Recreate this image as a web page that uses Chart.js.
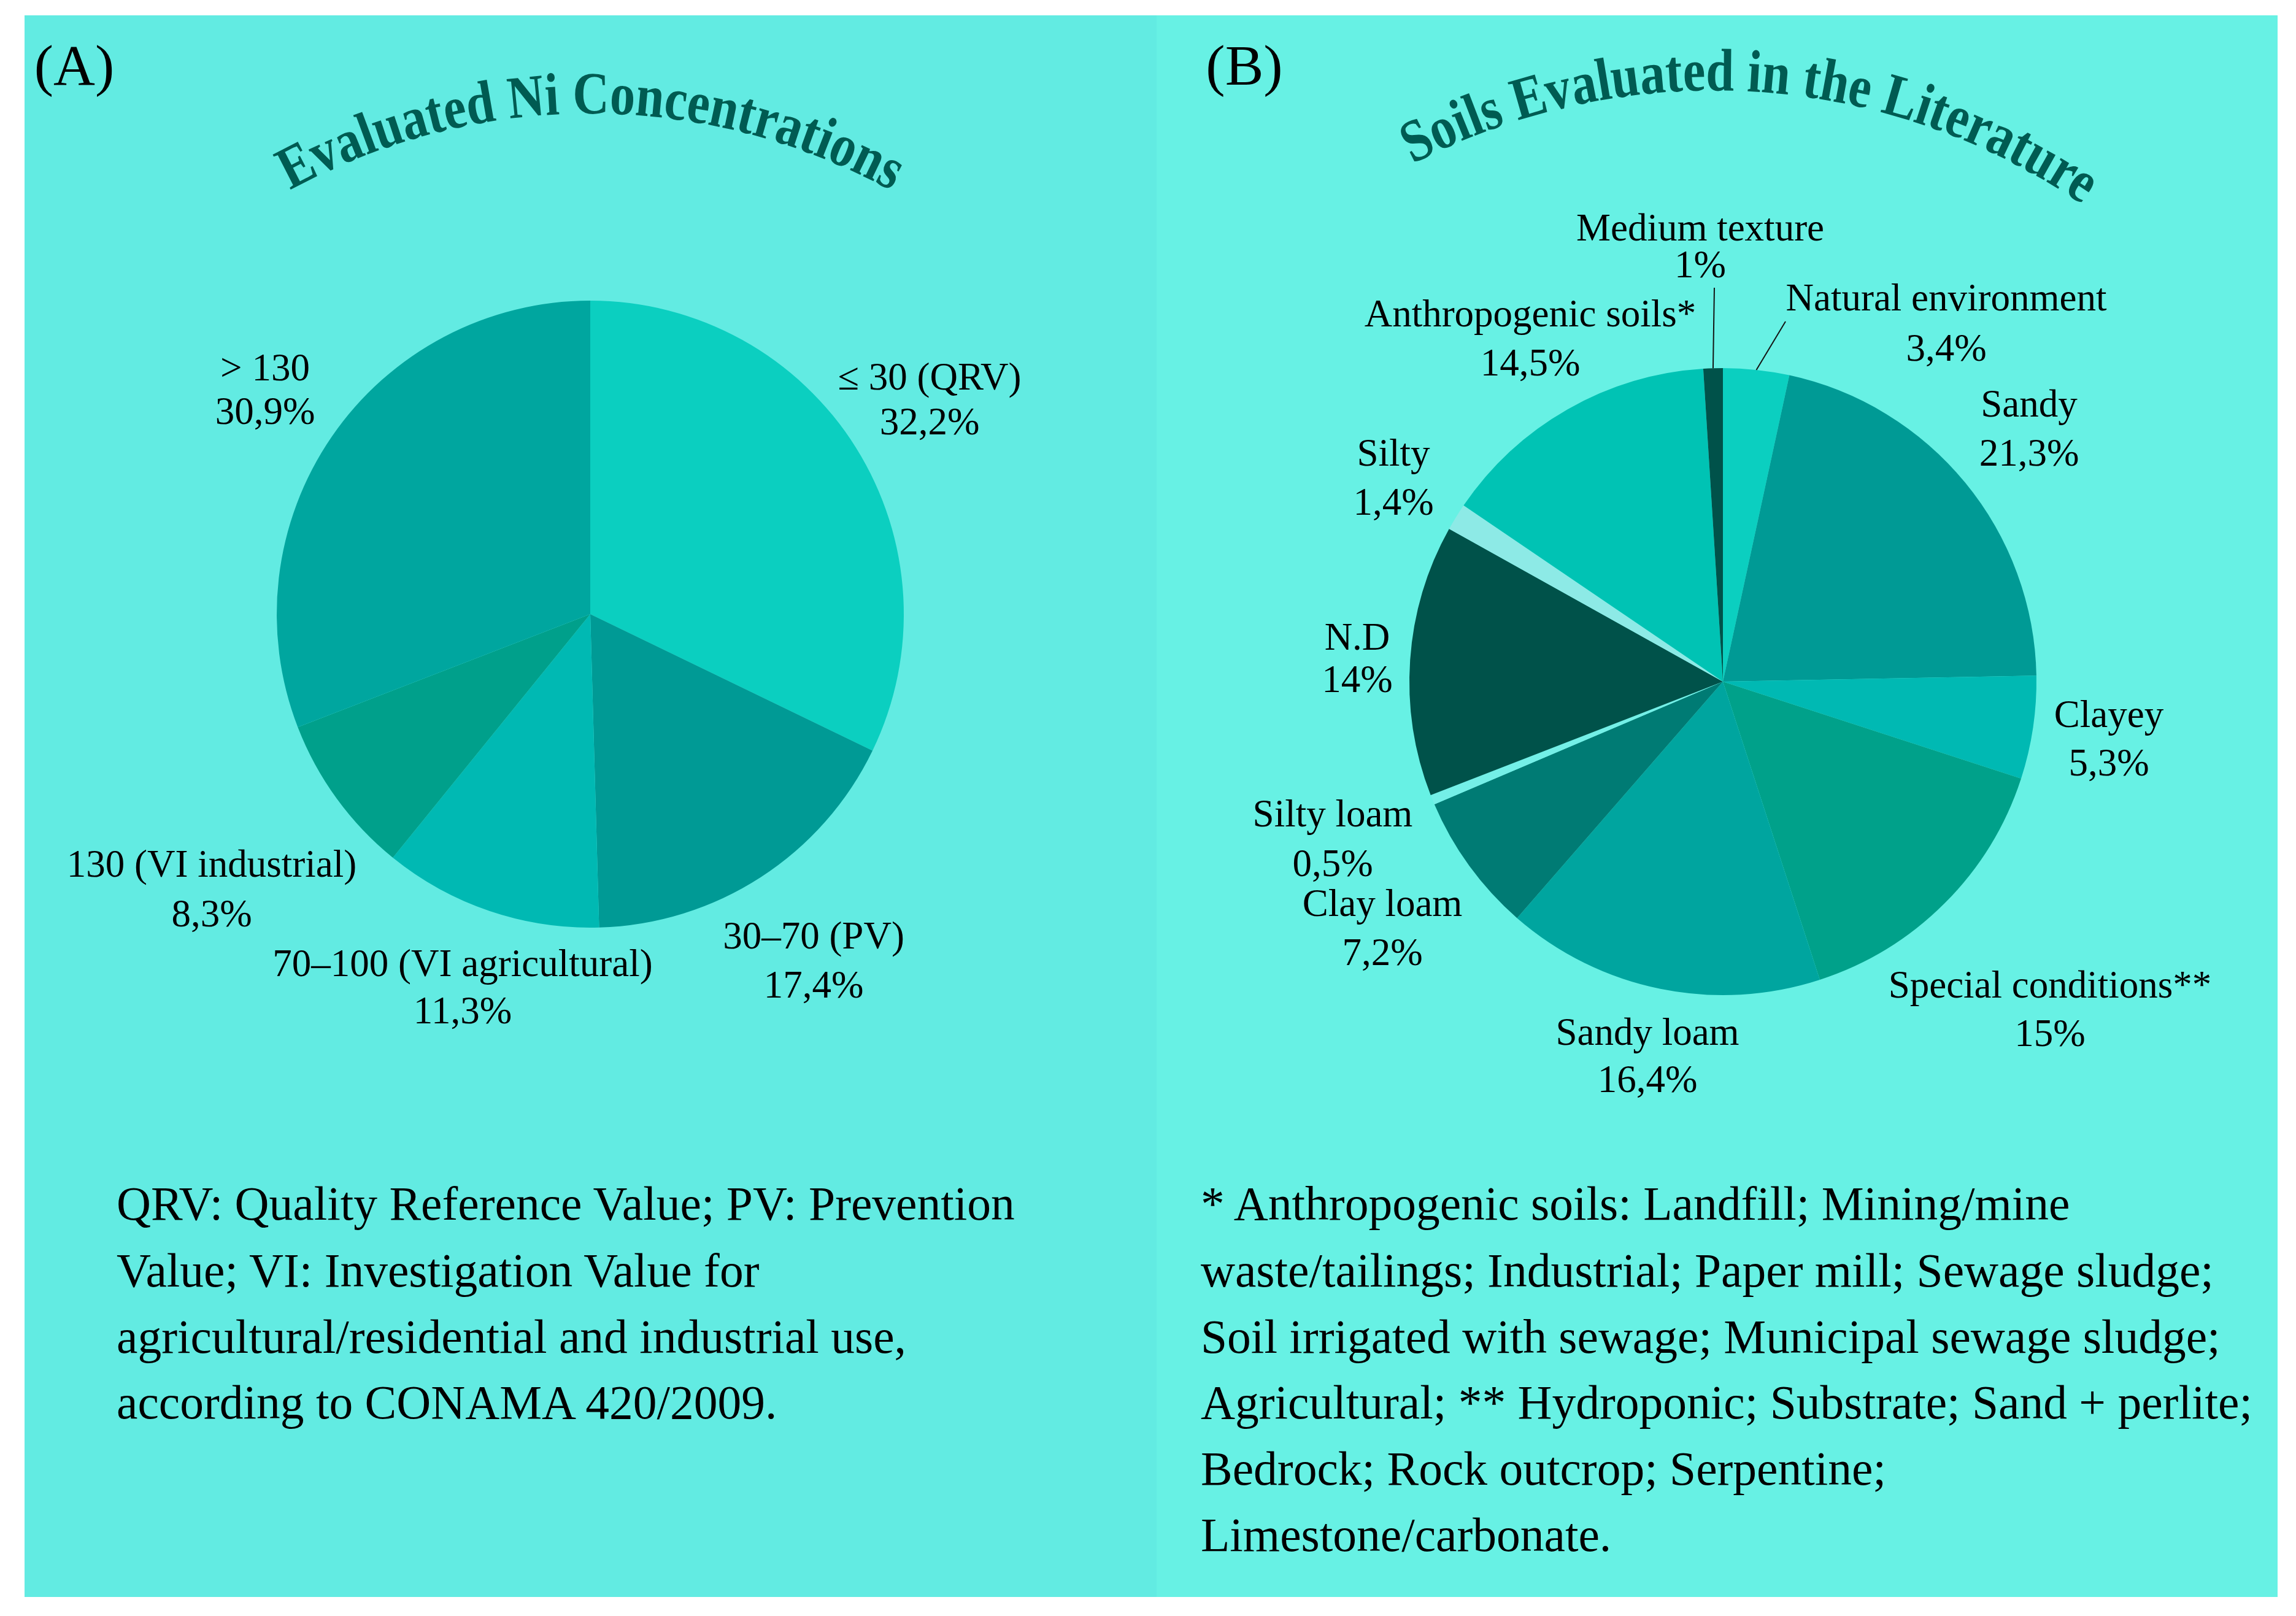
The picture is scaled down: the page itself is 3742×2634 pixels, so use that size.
<!DOCTYPE html>
<html lang="en">
<head>
<meta charset="UTF-8">
<title>Evaluated Ni Concentrations / Soils Evaluated in the Literature</title>
<script src="https://cdn.jsdelivr.net/npm/chart.js@4"></script>
<style>
    html, body { margin: 0; padding: 0; background: #fff; }
    body { width: 3742px; height: 2634px; position: relative; overflow: hidden;
           font-family: "Liberation Serif", "Times New Roman", serif; }
    .panel { position: absolute; top: 25px; height: 2578px; }
    #panelA { left: 40px; width: 1845px; background: #62EBE2; }
    #panelB { left: 1885px; width: 1827px; background: #67F1E4; }
    .panel canvas { position: absolute; left: 0; top: 0; }
    #overlay { position: absolute; left: 0; top: 0; }
</style>
</head>
<body>
<div class="panel" id="panelA"><canvas id="chartA" width="1845" height="2578"></canvas></div>
<div class="panel" id="panelB"><canvas id="chartB" width="1827" height="2578"></canvas></div>
<svg id="overlay" width="3742" height="2634" xmlns="http://www.w3.org/2000/svg"></svg>

<script>
// --- data (A) ---
const labelsA = ['≤ 30 (QRV)', '30–70 (PV)', '70–100 (VI agricultural)', '130 (VI industrial)', '> 130'];
const valuesA = [32.2, 17.4, 11.3, 8.3, 30.9];
const colorsA = ['#0BCFC0', '#009A95', '#00B9B3', '#00A08B', '#00A69F'];

// --- data (B) ---
const labelsB = ['Natural environment', 'Sandy', 'Clayey', 'Special conditions**', 'Sandy loam',
                 'Clay loam', 'Silty loam', 'N.D', 'Silty', 'Anthropogenic soils*', 'Medium texture'];
const valuesB = [3.4, 21.3, 5.3, 15, 16.4, 7.2, 0.5, 14, 1.4, 14.5, 1];
const colorsB = ['#0BCFC0', '#009A95', '#00B9B3', '#00A18A', '#00A59F',
                 '#007B74', '#74EFE7', '#00524A', '#8DEAE6', '#00C3B4', '#00524A'];

const notesA = [
    'QRV: Quality Reference Value; PV: Prevention',
    'Value; VI: Investigation Value for',
    'agricultural/residential and industrial use,',
    'according to CONAMA 420/2009.'
];
const notesB = [
    '* Anthropogenic soils: Landfill; Mining/mine',
    'waste/tailings; Industrial; Paper mill; Sewage sludge;',
    'Soil irrigated with sewage; Municipal sewage sludge;',
    'Agricultural; ** Hydroponic; Substrate; Sand + perlite;',
    'Bedrock; Rock outcrop; Serpentine;',
    'Limestone/carbonate.'
];

// label placement (page px): x centre, baseline of name, baseline of percent
const labelPosA = [[1515, 635, 708], [1326, 1546, 1626], [754, 1591, 1668], [345, 1429, 1510], [432, 620, 691]];
const labelPosB = [[3172, 506, 588], [3307, 679, 759], [3437, 1185, 1264], [3341, 1626, 1705], [2685, 1703, 1780],
                   [2253, 1493, 1573], [2172, 1347, 1428], [2212, 1059, 1128], [2271, 759, 839], [2494, 532, 612],
                   [2771, 392, 452]];
// leader lines in B: slice index -> end point (page px)
const leadersB = [[0, 2910, 524], [10, 2794, 469]];

const pct = v => String(v).replace('.', ',') + '%';

const leaderPlugin = {
    id: 'leaders',
    afterDatasetsDraw(chart, args, opts) {
        if (!opts.ends) return;
        const meta = chart.getDatasetMeta(0);
        const ctx = chart.ctx;
        ctx.save();
        ctx.strokeStyle = '#141414';
        ctx.lineWidth = 2;
        opts.ends.forEach(([i, ex, ey]) => {
            const a = meta.data[i].getProps(['x', 'y', 'startAngle', 'endAngle', 'outerRadius'], true);
            const mid = (a.startAngle + a.endAngle) / 2;
            ctx.beginPath();
            ctx.moveTo(a.x + Math.cos(mid) * a.outerRadius, a.y + Math.sin(mid) * a.outerRadius);
            ctx.lineTo(ex - opts.origin[0], ey - opts.origin[1]);
            ctx.stroke();
        });
        ctx.restore();
    }
};

function makePie(id, labels, values, colors, padding, leaderOpts) {
    return new Chart(document.getElementById(id), {
        type: 'pie',
        data: {
            labels: labels,
            datasets: [{ data: values, backgroundColor: colors, borderWidth: 0, hoverOffset: 0, offset: 0 }]
        },
        options: {
            responsive: false,
            animation: false,
            events: [],
            layout: { padding: padding },
            plugins: {
                legend: { display: false },
                tooltip: { enabled: false },
                leaders: leaderOpts || {}
            }
        },
        plugins: [leaderPlugin]
    });
}

// pie A centred at page (962,1001), pie B at page (2808,1111), radius 511
makePie('chartA', labelsA, valuesA, colorsA, { left: 411, top: 465, right: 412, bottom: 1091 });
makePie('chartB', labelsB, valuesB, colorsB, { left: 412, top: 575, right: 393, bottom: 981 },
        { ends: leadersB, origin: [1885, 25] });

// --- text overlay ---
const NS = 'http://www.w3.org/2000/svg';
const svg = document.getElementById('overlay');
const FONT = '"Liberation Serif", "Times New Roman", serif';

function addText(str, x, y, size, opts) {
    opts = opts || {};
    const t = document.createElementNS(NS, 'text');
    t.setAttribute('x', x);
    t.setAttribute('y', y);
    t.setAttribute('font-family', FONT);
    t.setAttribute('font-size', size);
    t.setAttribute('fill', opts.fill || '#000');
    t.setAttribute('text-anchor', opts.anchor || 'middle');
    if (opts.weight) t.setAttribute('font-weight', opts.weight);
    t.textContent = str;
    svg.appendChild(t);
}

// bold title set on a circular arc; glyphs squeezed to the arc length so they come out taller
function addArcText(str, id, cx, cy, r, a0, a1, size) {
    const arcLen = r * (a1 - a0) * Math.PI / 180;
    const path = document.createElementNS(NS, 'path');
    path.setAttribute('id', id);
    path.setAttribute('d', `M ${cx - r} ${cy} A ${r} ${r} 0 0 1 ${cx + r} ${cy}`);
    path.setAttribute('fill', 'none');
    svg.appendChild(path);
    const t = document.createElementNS(NS, 'text');
    t.setAttribute('font-family', FONT);
    t.setAttribute('font-weight', 'bold');
    t.setAttribute('font-size', size);
    t.setAttribute('fill', '#005B52');
    t.setAttribute('textLength', arcLen.toFixed(1));
    t.setAttribute('lengthAdjust', 'spacingAndGlyphs');
    const tp = document.createElementNS(NS, 'textPath');
    tp.setAttribute('href', '#' + id);
    tp.setAttribute('startOffset', ((90 + (a0 + a1) / 2) / 180 * 100).toFixed(2) + '%');
    tp.setAttribute('text-anchor', 'middle');
    tp.setAttribute('textLength', arcLen.toFixed(1));
    tp.setAttribute('lengthAdjust', 'spacingAndGlyphs');
    tp.textContent = str;
    t.appendChild(tp);
    svg.appendChild(t);
}

addText('(A)', 121, 138, 94);
addText('(B)', 2028, 138, 94);
addArcText('Evaluated Ni Concentrations', 'arcA', 962, 1204, 1019, -28.7, 28.8, 98);
addArcText('Soils Evaluated in the Literature', 'arcB', 2793, 1210, 1063, -27.5, 34.4, 98);

labelsA.forEach((name, i) => {
    const p = labelPosA[i];
    addText(name, p[0], p[1], 63);
    addText(pct(valuesA[i]), p[0], p[2], 63);
});
labelsB.forEach((name, i) => {
    const p = labelPosB[i];
    addText(name, p[0], p[1], 63);
    addText(pct(valuesB[i]), p[0], p[2], 63);
});

const noteRows = [1988, 2097, 2205, 2312, 2420, 2528];
notesA.forEach((line, i) => addText(line, 190, noteRows[i], 77.5, { anchor: 'start' }));
notesB.forEach((line, i) => addText(line, 1957, noteRows[i], 77.5, { anchor: 'start' }));
</script>
</body>
</html>
